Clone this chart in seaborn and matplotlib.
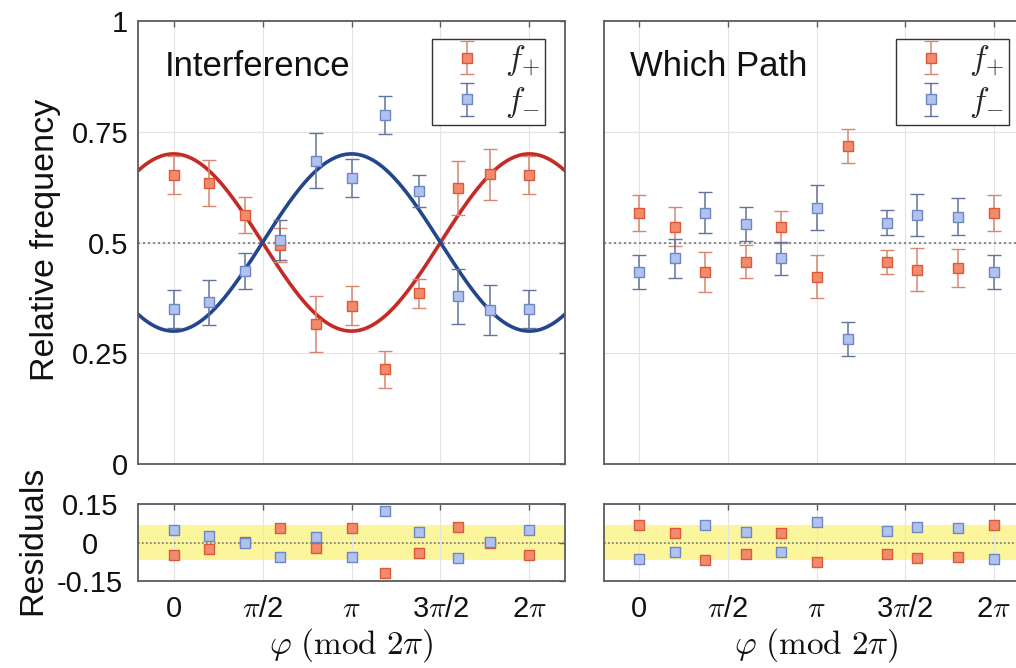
import numpy as np
import pandas as pd
import matplotlib
matplotlib.use("Agg")
import matplotlib.pyplot as plt
import seaborn as sns

# Measured relative frequencies (phase in units of pi)
phi_int = [0.0, 0.2, 0.4, 0.6, 0.8, 1.0, 1.19, 1.38, 1.6, 1.78, 2.0]
fp_int = [0.652, 0.635, 0.562, 0.494, 0.316, 0.357, 0.214, 0.385, 0.624, 0.654, 0.652]
fp_int_err = [0.043, 0.052, 0.041, 0.038, 0.063, 0.044, 0.042, 0.033, 0.061, 0.057, 0.043]
fm_int = [0.349, 0.365, 0.436, 0.506, 0.685, 0.645, 0.788, 0.616, 0.379, 0.348, 0.349]
fm_int_err = [0.043, 0.051, 0.041, 0.045, 0.062, 0.043, 0.043, 0.036, 0.062, 0.056, 0.043]

phi_wp = [0.0, 0.2, 0.37, 0.6, 0.8, 1.0, 1.18, 1.4, 1.57, 1.8, 2.0]
fp_wp = [0.567, 0.536, 0.433, 0.457, 0.536, 0.423, 0.718, 0.456, 0.439, 0.442, 0.567]
fp_wp_err = [0.040, 0.045, 0.045, 0.038, 0.036, 0.049, 0.039, 0.028, 0.049, 0.043, 0.040]
fm_wp = [0.434, 0.464, 0.567, 0.542, 0.464, 0.579, 0.282, 0.545, 0.562, 0.558, 0.434]
fm_wp_err = [0.038, 0.045, 0.046, 0.039, 0.037, 0.050, 0.039, 0.029, 0.048, 0.042, 0.038]

# Fitted model: f_pm = 1/2 (1 +/- V cos(phi)); no fringes in the which-path case
visibility_int = 0.4
visibility_wp = 0.0

titles = ["Interference", "Which Path"]
xtick_labels = ["0", r"$\pi$/2", r"$\pi$", r"3$\pi$/2", r"2$\pi$"]
ytick_labels = ["0", "0.25", "0.5", "0.75", "1"]
rtick_labels = ["-0.15", "0", "0.15"]
legend_labels = [r"$f_{+}$", r"$f_{-}$"]

# Styling
RED_FACE, RED_EDGE, RED_BAR, RED_FIT = "#f28a6c", "#dc5a38", "#d98670", "#c42a26"
BLUE_FACE, BLUE_EDGE, BLUE_BAR, BLUE_FIT = "#b2c2ee", "#6c86c6", "#62749c", "#24468c"
SPINE = "#5c5c5c"
GRID = "#e3e3e3"

sns.set_theme(style="whitegrid")
plt.rcParams["font.family"] = ["Liberation Sans", "DejaVu Sans"]
plt.rcParams["mathtext.fontset"] = "cm"

W, H = 1016, 668
fig = plt.figure(figsize=(W / 100, H / 100), dpi=100)
fig.patch.set_facecolor("white")


def px_axes(x0, y0, x1, y1):
    return fig.add_axes([x0 / W, 1 - y1 / H, (x1 - x0) / W, (y1 - y0) / H])


ax_main = [px_axes(138, 21, 565, 464), px_axes(604, 21, 1029, 464)]
ax_res = [px_axes(138, 504, 565, 581), px_axes(604, 504, 1029, 581)]

xticks = np.arange(5) * np.pi / 2
xlim = (-0.2 * np.pi, 2.2 * np.pi)


def style(ax):
    ax.set_facecolor("white")
    ax.grid(True, color=GRID, lw=0.8)
    ax.set_axisbelow(True)
    for s in ax.spines.values():
        s.set_visible(True)
        s.set_color(SPINE)
        s.set_linewidth(1.3)
    ax.tick_params(direction="in", length=4, width=1, color=SPINE,
                   top=True, right=True, labelsize=21, labelcolor="#111111")
    ax.set_xlim(*xlim)
    ax.set_xticks(xticks)


datasets = [
    (phi_int, fp_int, fp_int_err, fm_int, fm_int_err, visibility_int),
    (phi_wp, fp_wp, fp_wp_err, fm_wp, fm_wp_err, visibility_wp),
]

phi_fine = np.linspace(xlim[0], xlim[1], 500)

for i, (phi, fp, fpe, fm, fme, vis) in enumerate(datasets):
    ax = ax_main[i]
    style(ax)
    ph = np.array(phi) * np.pi
    ax.set_ylim(0, 1)
    ax.set_yticks([0, 0.25, 0.5, 0.75, 1])
    ax.tick_params(labelbottom=False)
    if i == 0:
        ax.set_yticklabels(ytick_labels)
        ax.tick_params(axis="y", pad=7)
    else:
        ax.tick_params(labelleft=False)

    ax.axhline(0.5, color="#8e8e8e", ls=(0, (1, 1.4)), lw=1.5, zorder=1)

    fit_p = 0.5 * (1 + vis * np.cos(phi_fine))
    fit_m = 0.5 * (1 - vis * np.cos(phi_fine))
    if vis > 0:
        fit = pd.DataFrame({"phi": phi_fine, "fp": fit_p, "fm": fit_m})
        sns.lineplot(data=fit, x="phi", y="fp", color=RED_FIT, lw=2.6, ax=ax, zorder=2)
        sns.lineplot(data=fit, x="phi", y="fm", color=BLUE_FIT, lw=2.6, ax=ax, zorder=2)

    eb_p = ax.errorbar(ph, fp, yerr=fpe, fmt="s", ms=7.3, mfc=RED_FACE, mec=RED_EDGE,
                       mew=1.0, ecolor=RED_BAR, elinewidth=1.1, capsize=5,
                       capthick=1.1, zorder=3)
    eb_m = ax.errorbar(ph, fm, yerr=fme, fmt="s", ms=7.3, mfc=BLUE_FACE, mec=BLUE_EDGE,
                       mew=1.0, ecolor=BLUE_BAR, elinewidth=1.1, capsize=5,
                       capthick=1.1, zorder=3)
    ax.set_xlabel("")
    ax.set_ylabel("")

    ax.text(0.062, 0.897, titles[i], transform=ax.transAxes, fontsize=25,
            ha="left", va="center", color="#111111")

    leg = ax.legend([eb_p, eb_m], legend_labels, loc="upper right",
                    bbox_to_anchor=(0.953, 0.959), fontsize=24, frameon=True,
                    fancybox=False, framealpha=1, borderaxespad=0,
                    handlelength=1.8, handletextpad=0.25, borderpad=0.15,
                    labelspacing=0.2)
    leg.get_frame().set_edgecolor("#333333")
    leg.get_frame().set_linewidth(1.0)

    # Residual panel
    rx = ax_res[i]
    style(rx)
    rx.set_ylim(-0.15, 0.15)
    rx.set_yticks([-0.15, 0, 0.15])
    rx.axhspan(-0.07, 0.07, color="#fbf59c", lw=0, zorder=0.5)
    rx.axhline(0, color="#7a7a6a", ls=(0, (1, 1.4)), lw=1.2, zorder=1)
    res = pd.DataFrame({
        "phi": ph,
        "rp": np.array(fp) - 0.5 * (1 + vis * np.cos(ph)),
        "rm": np.array(fm) - 0.5 * (1 - vis * np.cos(ph)),
    })
    sns.scatterplot(data=res, x="phi", y="rp", marker="s", s=55, color=RED_FACE,
                    edgecolor=RED_EDGE, linewidth=1.0, ax=rx, zorder=3)
    sns.scatterplot(data=res, x="phi", y="rm", marker="s", s=55, color=BLUE_FACE,
                    edgecolor=BLUE_EDGE, linewidth=1.0, ax=rx, zorder=3)
    rx.set_xticklabels(xtick_labels)
    rx.tick_params(axis="x", pad=10)
    rx.set_xlabel(r"$\varphi\ (\mathrm{mod}\ 2\pi)$", fontsize=24, labelpad=2,
                  color="#111111")
    rx.set_ylabel("")
    if i == 0:
        rx.set_yticklabels(rtick_labels)
        rx.tick_params(axis="y", pad=34.5)
        for lab in rx.get_yticklabels():
            lab.set_horizontalalignment("center")
    else:
        rx.tick_params(labelleft=False)

fig.text(46 / W, 1 - 240 / H, "Relative frequency", rotation=90, fontsize=24.5,
         ha="center", va="center", color="#111111")
fig.text(33 / W, 1 - 540 / H, "Residuals", rotation=90, fontsize=24.5,
         ha="center", va="center", color="#111111")

fig.savefig("out.png", dpi=100)
